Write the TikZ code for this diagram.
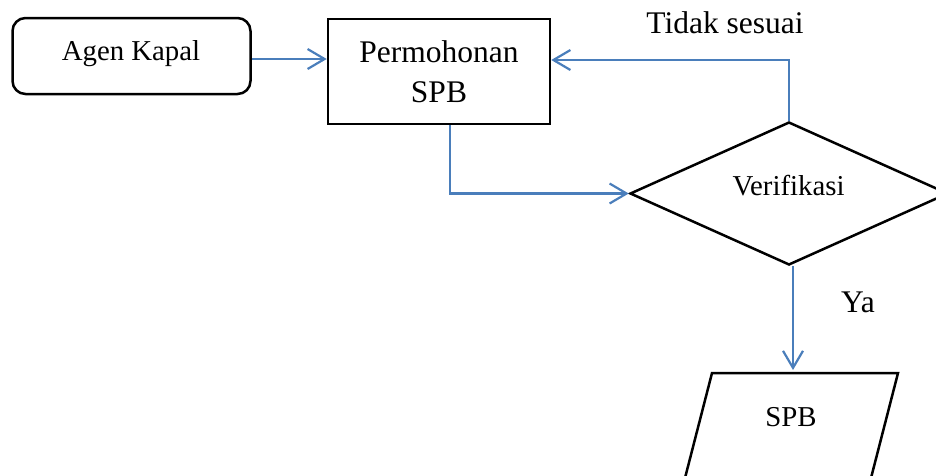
\documentclass[tikz,border=0pt]{standalone}
\usepackage{fontspec}
\setmainfont{Liberation Serif}
\usetikzlibrary{arrows.meta,shapes.geometric}
\definecolor{flowblue}{RGB}{74,126,187}
\tikzset{
  box/.style={draw=black, line width=2.5pt, inner sep=0pt},
  flow/.style={draw=flowblue, line width=2.2pt, -{Straight Barb[length=17pt,width=20pt,line width=2.2pt]}},
  bigtxt/.style={font=\fontsize{31.5}{40}\selectfont, inner sep=0pt},
  smalltxt/.style={font=\fontsize{28.8}{34}\selectfont, inner sep=0pt},
}
\begin{document}
\begin{tikzpicture}[x=1pt,y=-1pt]
\useasboundingbox (0,0) rectangle (936,475);
\clip (0,0) rectangle (936,475);
% nodes
\node[box, rounded corners=13pt, minimum width=238pt, minimum height=76pt] (agen) at (131.5,56) {};
\node[smalltxt, anchor=base] (agent) at (131,60) {Agen Kapal};
\node[box, minimum width=222pt, minimum height=105pt, align=center, bigtxt] (perm) at (439,71.5) {Permohonan\\SPB};
\node[box, diamond, minimum width=318pt, minimum height=143pt] (dia) at (789,193.5) {};
\node[smalltxt, anchor=base] (diat) at (788.5,195) {Verifikasi};
% parallelogram (output)
\draw[black, line width=2.5pt] (712,373) -- (898,373) -- (862,513) -- (676,513) -- cycle;
\coordinate (outtop) at (793,370);
\node[smalltxt, anchor=base] (outt) at (791,426) {SPB};
% labels
\node[bigtxt, anchor=base] (tidak) at (725,33) {Tidak sesuai};
\node[bigtxt, anchor=base] (ya) at (858,312) {Ya};
% connectors
\draw[flow] ([yshift=-3pt]agen.east) -- ([yshift=-3pt]agen.east -| perm.west);
\draw[flow] ([xshift=11pt]perm.south) |- (dia.west);
\draw[flow] (dia.north) |- ([yshift=11.5pt]perm.east);
\draw[flow] (dia.south -| outtop) -- (outtop);
\end{tikzpicture}
\end{document}
